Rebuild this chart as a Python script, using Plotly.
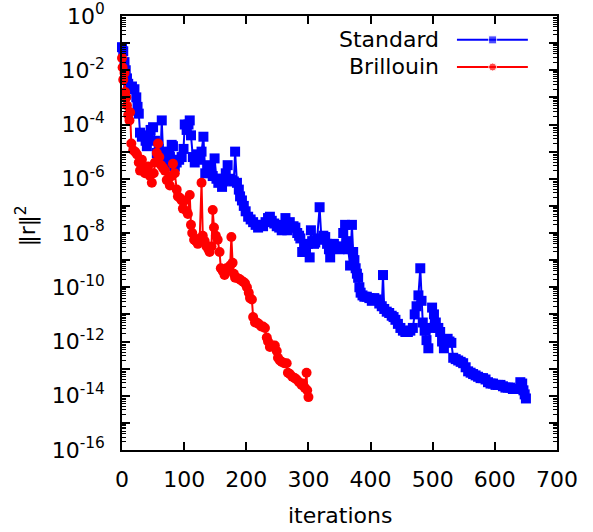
import plotly.graph_objects as go

# ---------------- data ----------------
# iterations and log10 of squared residual norm
standard_iter = [
    0, 2, 4, 6, 8, 10, 13, 16, 20, 23, 25, 27, 29, 32, 35, 38, 40, 43, 46, 50,
    53, 56, 59, 62, 64, 66, 69, 72, 75, 77, 80, 82, 85, 88, 92, 96, 99, 101, 104, 107,
    109, 111, 114, 117, 120, 123, 125, 128, 131, 134, 137, 140, 143, 146, 149, 152, 155, 158, 161, 164,
    167, 170, 173, 177, 180, 182, 185, 188, 190, 193, 196, 199, 203, 207, 211, 215, 219, 223, 227, 231,
    235, 238, 241, 245, 249, 253, 257, 260, 263, 266, 270, 273, 276, 279, 282, 285, 287, 290, 293, 296,
    299, 302, 304, 306, 309, 311, 314, 318, 321, 324, 327, 330, 333, 335, 338, 341, 344, 347, 350, 353,
    356, 359, 361, 364, 367, 370, 372, 374, 376, 378, 380, 382, 384, 387, 390, 394, 398, 402, 406, 410,
    414, 418, 420, 422, 426, 430, 434, 437, 440, 444, 448, 452, 456, 460, 464, 468, 471, 474, 477, 480,
    482, 484, 487, 490, 493, 496, 499, 502, 505, 509, 512, 515, 518, 521, 524, 527, 530, 533, 537, 541,
    545, 549, 553, 557, 561, 565, 569, 573, 577, 581, 585, 589, 593, 597, 601, 605, 609, 613, 617, 621,
    625, 629, 633, 637, 641, 644, 646, 648, 650,
]
standard_log10 = [
    -1.15, -1.3, -1.7, -2.0, -2.3, -2.5, -2.65, -2.6, -2.7, -3.0, -3.35, -3.6, -4.3, -4.45, -4.4, -4.6, -4.8, -4.5, -4.2, -4.1,
    -4.6, -5.05, -4.9, -5.05, -3.85, -5.0, -5.55, -5.3, -5.1, -5.2, -4.75, -4.8, -5.55, -5.4, -5.3, -5.2, -4.9, -4.0, -4.2, -4.0,
    -3.85, -4.4, -5.2, -5.4, -5.1, -5.3, -5.2, -5.0, -4.45, -5.8, -5.5, -5.6, -5.7, -5.9, -5.25, -6.0, -6.15, -6.0, -6.3, -6.1,
    -5.8, -5.5, -6.0, -6.05, -6.1, -5.0, -6.15, -6.4, -6.65, -6.8, -7.0, -7.2, -7.4, -7.5, -7.6, -7.7, -7.8, -7.7, -7.75, -7.6,
    -7.45, -7.4, -7.55, -7.65, -7.75, -7.8, -7.9, -7.7, -7.45, -7.9, -7.6, -7.8, -7.75, -7.8, -8.0, -8.1, -8.2, -8.7, -8.5, -8.6,
    -8.4, -8.9, -7.9, -8.3, -8.4, -8.35, -8.2, -7.05, -8.25, -8.1, -8.15, -8.4, -8.6, -8.9, -8.5, -8.4, -8.5, -8.55, -8.6, -8.5,
    -8.0, -7.7, -8.3, -8.6, -9.2, -7.7, -8.7, -9.0, -9.3, -9.5, -9.65, -10.0, -10.2, -10.3, -10.35, -10.35, -10.4, -10.5, -10.4, -10.45,
    -10.6, -10.7, -9.55, -10.8, -10.9, -10.95, -11.05, -11.1, -11.2, -11.35, -11.5, -11.6, -11.65, -11.65, -11.6, -11.5, -11.0, -10.7, -10.3, -9.3,
    -10.5, -11.3, -11.6, -11.95, -12.25, -11.5, -10.75, -11.0, -11.3, -11.5, -11.65, -12.0, -12.25, -12.0, -11.9, -12.0, -12.05, -12.6, -12.65, -12.7,
    -12.75, -12.8, -12.95, -13.1, -13.15, -13.2, -13.25, -13.3, -13.35, -13.35, -13.4, -13.5, -13.55, -13.55, -13.6, -13.6, -13.6, -13.65, -13.7, -13.7,
    -13.7, -13.75, -13.75, -13.75, -13.5, -13.55, -13.8, -13.95, -14.1,
]

brillouin_iter = [
    0, 1, 2, 4, 5, 7, 8, 10, 12, 13, 15, 18, 21, 24, 27, 29, 32, 35, 37, 40,
    42, 45, 48, 51, 53, 56, 58, 60, 63, 66, 69, 72, 75, 77, 80, 82, 85, 88, 90, 93,
    96, 98, 101, 104, 106, 109, 111, 113, 116, 119, 122, 125, 128, 130, 133, 136, 139, 141, 144, 146,
    148, 151, 154, 157, 159, 162, 165, 168, 171, 174, 176, 178, 180, 182, 185, 189, 192, 195, 198, 201,
    204, 206, 209, 211, 214, 217, 220, 224, 227, 230, 233, 235, 238, 242, 246, 249, 251, 254, 257, 261,
    265, 267, 270, 274, 278, 281, 285, 289, 291, 294, 297, 298, 300,
]
brillouin_log10 = [
    -1.55, -1.9, -2.35, -2.1, -2.8, -3.0, -3.3, -3.65, -3.85, -3.55, -4.7, -4.95, -5.0, -5.1, -5.4, -5.7, -5.3, -5.6, -5.8, -5.7,
    -5.55, -5.9, -6.15, -5.8, -5.4, -5.05, -4.7, -5.2, -5.5, -5.6, -5.7, -6.05, -6.0, -6.25, -5.9, -5.45, -5.8, -6.4, -6.65, -6.7,
    -6.8, -7.1, -6.8, -7.2, -7.3, -6.6, -7.7, -8.0, -8.25, -8.3, -8.4, -8.2, -6.15, -8.1, -8.3, -8.5, -8.6, -8.7, -8.5, -7.15,
    -7.8, -8.1, -8.25, -8.7, -9.3, -9.4, -9.55, -9.3, -9.35, -9.2, -8.15, -9.1, -9.5, -9.65, -9.65, -9.7, -9.75, -9.8, -9.85, -10.0,
    -10.2, -10.4, -10.45, -11.1, -11.3, -11.3, -11.35, -11.45, -11.45, -11.5, -11.85, -12.0, -12.2, -12.15, -12.15, -12.35, -12.6, -12.7, -12.75, -12.8,
    -12.8, -13.15, -13.2, -13.3, -13.35, -13.4, -13.5, -13.6, -13.55, -13.7, -13.15, -13.8, -14.05,
]

series_names = ["Standard", "Brillouin"]
y_label_exponents = list(range(0, -17, -2))      # labelled decades
y_extra_exponents = list(range(-1, -17, -2))     # unlabelled decades (long ticks)
x_tick_values = [0, 100, 200, 300, 400, 500, 600, 700]

assert len(standard_iter) == len(standard_log10)
assert len(brillouin_iter) == len(brillouin_log10)

standard_res = [10 ** v for v in standard_log10]
brillouin_res = [10 ** v for v in brillouin_log10]

FONT = "DejaVu Sans"
FS = 22
BLUE = "#0000ff"
RED = "#ff0000"

fig = go.Figure()
fig.add_trace(go.Scatter(
    x=standard_iter, y=standard_res, mode="lines+markers", name=series_names[0],
    line=dict(color=BLUE, width=2), marker=dict(symbol="square", size=10, color=BLUE),
    cliponaxis=False, showlegend=False,
))
fig.add_trace(go.Scatter(
    x=brillouin_iter, y=brillouin_res, mode="lines+markers", name=series_names[1],
    line=dict(color=RED, width=2), marker=dict(symbol="circle", size=10, color=RED),
    cliponaxis=False, showlegend=False,
))

# legend keys (gnuplot style: text left, sample right) on an overlay unit axis
key_y = [0.945, 0.8825]
key_colors = [BLUE, RED]
key_symbols = ["square", "circle"]
for i in range(2):
    fig.add_trace(go.Scatter(
        x=[0.770, 0.852, 0.933], y=[key_y[i]] * 3, xaxis="x2", yaxis="y2",
        mode="lines+markers", line=dict(color=key_colors[i], width=2),
        marker=dict(symbol=key_symbols[i], size=[0, 8, 0], color=key_colors[i]),
        showlegend=False, hoverinfo="skip",
    ))
    fig.add_annotation(
        x=0.733, y=key_y[i], xref="paper", yref="paper", text=series_names[i],
        showarrow=False, xanchor="right", yanchor="middle",
        font=dict(family=FONT, size=FS, color="black"),
    )

y_tickvals = [10 ** e for e in y_label_exponents]
y_ticktext = ["10<sup>%d</sup>" % e for e in y_label_exponents]
y_extra = [10 ** e for e in y_extra_exponents]
y_minor = [m * 10 ** e for e in range(-16, 0) for m in range(2, 10)]

common_line = dict(showline=True, linecolor="black", linewidth=1.5, mirror="ticks",
                   showgrid=False, zeroline=False)

fig.update_layout(
    width=593, height=532,
    margin=dict(l=122, r=36, t=16, b=82),
    paper_bgcolor="white", plot_bgcolor="white",
    font=dict(family=FONT, size=FS, color="black"),
    xaxis=dict(
        range=[0, 700], tickmode="array", tickvals=x_tick_values,
        ticks="inside", ticklen=8, tickwidth=1.5, tickcolor="black",
        ticklabelstandoff=9, automargin=False,
        tickfont=dict(family=FONT, size=FS, color="black"), **common_line,
    ),
    yaxis=dict(
        type="log", range=[-16, 0], tickmode="array",
        tickvals=y_tickvals, ticktext=y_ticktext,
        ticks="inside", ticklen=8, tickwidth=1.5, tickcolor="black",
        ticklabelstandoff=11, automargin=False,
        tickfont=dict(family=FONT, size=FS, color="black"),
        minor=dict(tickmode="array", tickvals=y_minor, ticks="inside",
                   ticklen=4, tickwidth=1, tickcolor="black", showgrid=False),
        **common_line,
    ),
    yaxis3=dict(
        type="log", range=[-16, 0], overlaying="y", tickmode="array",
        tickvals=y_extra, showticklabels=False,
        ticks="inside", ticklen=8, tickwidth=1.5, tickcolor="black",
        automargin=False, **common_line,
    ),
    xaxis2=dict(overlaying="x", range=[0, 1], visible=False),
    yaxis2=dict(overlaying="y", range=[0, 1], visible=False),
)

# invisible trace so the extra-tick axis is drawn
fig.add_trace(go.Scatter(x=[None], y=[None], yaxis="y3", showlegend=False, hoverinfo="skip"))

fig.add_annotation(
    x=0.5, y=-0.15, xref="paper", yref="paper", text="iterations",
    showarrow=False, xanchor="center", yanchor="middle",
    font=dict(family=FONT, size=FS, color="black"),
)
fig.add_annotation(
    x=-0.2207, y=0.518, xref="paper", yref="paper", text="‖r‖<sup>2</sup>",
    showarrow=False, xanchor="center", yanchor="middle", textangle=-90,
    font=dict(family=FONT, size=FS, color="black"),
)

fig.write_html("out.html", config={"displayModeBar": False},
               post_script="document.body.style.margin='0';")
